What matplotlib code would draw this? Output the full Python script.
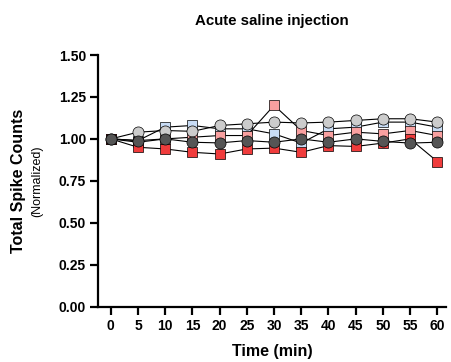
import matplotlib
matplotlib.use("Agg")
import matplotlib.pyplot as plt

plt.rcParams["font.family"] = ["Liberation Sans", "DejaVu Sans"]

time_min = [0, 5, 10, 15, 20, 25, 30, 35, 40, 45, 50, 55, 60]

blue_sq = [1.00, 0.99, 1.07, 1.08, 1.06, 1.06, 1.03, 0.975, 1.06, 1.07, 1.10, 1.10, 1.07]
pink_sq = [1.00, 0.98, 1.00, 1.01, 1.02, 1.02, 1.20, 1.05, 1.02, 1.04, 1.03, 1.05, 1.02]
red_sq = [1.00, 0.95, 0.94, 0.92, 0.91, 0.94, 0.945, 0.92, 0.96, 0.955, 0.975, 1.00, 0.865]
light_circ = [1.00, 1.04, 1.05, 1.045, 1.08, 1.09, 1.10, 1.095, 1.10, 1.11, 1.12, 1.12, 1.10]
dark_circ = [1.00, 0.99, 1.00, 0.98, 0.976, 0.99, 0.98, 1.00, 0.98, 1.00, 0.985, 0.975, 0.98]

y_ticks = [0.00, 0.25, 0.50, 0.75, 1.00, 1.25, 1.50]

fig = plt.figure(figsize=(4.51, 3.62), dpi=100)
ax = fig.add_axes([0.218, 0.153, 0.771, 0.695])

series = [
    (blue_sq, "s", "#C8DCF5", 7.4),
    (pink_sq, "s", "#F9A0A0", 7.4),
    (red_sq, "s", "#F03C3C", 7.4),
    (light_circ, "o", "#CCCCCC", 8.0),
    (dark_circ, "o", "#555555", 8.0),
]
for values, marker, color, size in series:
    ax.plot(time_min, values, color="black", linewidth=0.8,
            marker=marker, markersize=size, markerfacecolor=color,
            markeredgecolor="black", markeredgewidth=0.5, clip_on=False)

ax.set_xlim(-2.3, 61.6)
ax.set_ylim(0, 1.5)
ax.set_xticks(time_min)
ax.set_yticks(y_ticks)
ax.set_yticklabels([f"{v:.2f}" for v in y_ticks])

for side in ["top", "right"]:
    ax.spines[side].set_visible(False)
for side in ["left", "bottom"]:
    ax.spines[side].set_linewidth(1.6)
ax.tick_params(axis="both", width=1.6, length=5.8, labelsize=10, pad=3)
for label in ax.get_xticklabels() + ax.get_yticklabels():
    label.set_fontweight("bold")

fig.text(0.603, 0.942, "Acute saline injection", ha="center", va="center",
         fontsize=10.8, fontweight="bold")
ax.set_xlabel("Time (min)", fontsize=11.5, fontweight="bold", labelpad=8)
fig.text(0.041, 0.5, "Total Spike Counts", rotation=90, ha="center", va="center",
         fontsize=11.5, fontweight="bold")
fig.text(0.083, 0.5, "(Normalized)", rotation=90, ha="center", va="center",
         fontsize=9)

fig.savefig("out.png", dpi=100)
